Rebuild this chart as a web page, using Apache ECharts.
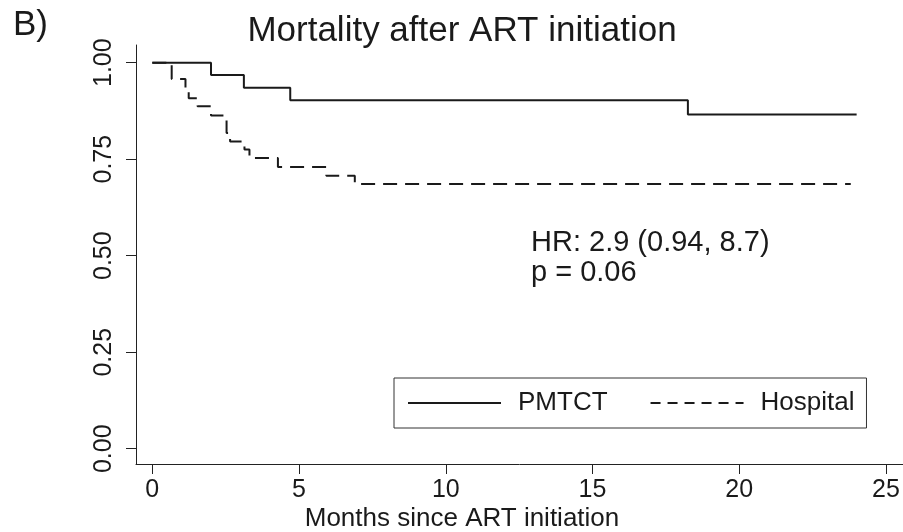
<!DOCTYPE html>
<html>
<head>
<meta charset="utf-8">
<script src="https://cdn.jsdelivr.net/npm/echarts@6/dist/echarts.min.js"></script>
<style>
html,body{margin:0;padding:0;background:#fff;}
#chart{width:903px;height:532px;}
</style>
</head>
<body>
<div id="chart"></div>
<script>
// Kaplan-Meier survival estimates
var pmtctTimes = [0, 2.0, 3.12, 4.70, 18.25, 24.0];
var pmtctSurv  = [1.0, 0.968, 0.935, 0.903, 0.866, 0.866];
var hospTimes  = [0, 0.66, 1.13, 1.24, 1.54, 2.0, 2.53, 2.65, 3.14, 3.31, 4.28, 5.93, 6.9, 23.8];
var hospSurv   = [1.0, 0.958, 0.934, 0.908, 0.887, 0.863, 0.818, 0.796, 0.775, 0.753, 0.730, 0.707, 0.686, 0.686];
var xTicks = [0, 5, 10, 15, 20, 25];
var yTicks = [0, 0.25, 0.5, 0.75, 1.0];
var seriesNames = ['PMTCT', 'Hospital'];
var titleText = 'Mortality after ART initiation';
var panelLabel = 'B)';
var xTitle = 'Months since ART initiation';
var annotation = ['HR: 2.9 (0.94, 8.7)', 'p = 0.06'];

function zip(a, b) { return a.map(function (v, i) { return [v, b[i]]; }); }

var FONT = '"Liberation Sans", Arial, Helvetica, sans-serif';
var INK = '#1a1a1a';

var chart = echarts.init(document.getElementById('chart'));
chart.setOption({
  animation: false,
  backgroundColor: '#fff',
  grid: { left: 136, right: 0, top: 45, bottom: 68, containLabel: false },
  xAxis: {
    type: 'value', min: -0.556, max: 25.58,
    axisLine: { show: true, onZero: false, lineStyle: { color: '#222', width: 1 } },
    axisTick: { show: true, length: 10, customValues: xTicks, lineStyle: { color: '#222', width: 1 } },
    axisLabel: { customValues: xTicks, margin: 14, fontSize: 25, fontFamily: FONT, color: INK },
    splitLine: { show: false }
  },
  yAxis: {
    type: 'value', min: -0.0396, max: 1.0458,
    axisLine: { show: true, onZero: false, lineStyle: { color: '#222', width: 1 } },
    axisTick: { show: true, length: 10, customValues: yTicks, lineStyle: { color: '#222', width: 1 } },
    axisLabel: { customValues: yTicks, rotate: 90, margin: 19, fontSize: 25, fontFamily: FONT, color: INK,
      formatter: function (v) { return v.toFixed(2); } },
    splitLine: { show: false }
  },
  legend: {
    left: 394, top: 378,
    padding: [12, 12, 12, 13],
    borderColor: '#333', borderWidth: 1,
    itemWidth: 93, itemHeight: 14, itemGap: 42,
    itemStyle: { opacity: 0 },
    textStyle: { fontSize: 26, fontFamily: FONT, color: INK, padding: [0, 0, 0, 12] },
    data: [
      { name: seriesNames[0] },
      { name: seriesNames[1], lineStyle: { type: [10, 7] } }
    ]
  },
  series: [
    {
      name: seriesNames[0], type: 'line', step: 'end', symbol: 'none',
      data: zip(pmtctTimes, pmtctSurv),
      lineStyle: { color: INK, width: 2, type: 'solid' },
      itemStyle: { color: INK }
    },
    {
      name: seriesNames[1], type: 'line', step: 'end', symbol: 'none',
      data: zip(hospTimes, hospSurv),
      lineStyle: { color: INK, width: 2, type: [14, 8] },
      itemStyle: { color: INK }
    }
  ],
  graphic: [
    { type: 'text', x: 13, y: 25.5, style: { text: panelLabel, fontSize: 35, fontFamily: FONT, fill: INK, align: 'left', verticalAlign: 'middle' } },
    { type: 'text', x: 462, y: 31.5, style: { text: titleText, fontSize: 35, fontFamily: FONT, fill: INK, align: 'center', verticalAlign: 'middle' } },
    { type: 'text', x: 462, y: 519, style: { text: xTitle, fontSize: 26, fontFamily: FONT, fill: INK, align: 'center', verticalAlign: 'middle' } },
    { type: 'text', x: 531, y: 243, style: { text: annotation[0], fontSize: 29, fontFamily: FONT, fill: INK, align: 'left', verticalAlign: 'middle' } },
    { type: 'text', x: 531, y: 273, style: { text: annotation[1], fontSize: 29, fontFamily: FONT, fill: INK, align: 'left', verticalAlign: 'middle' } }
  ]
});
</script>
</body>
</html>
